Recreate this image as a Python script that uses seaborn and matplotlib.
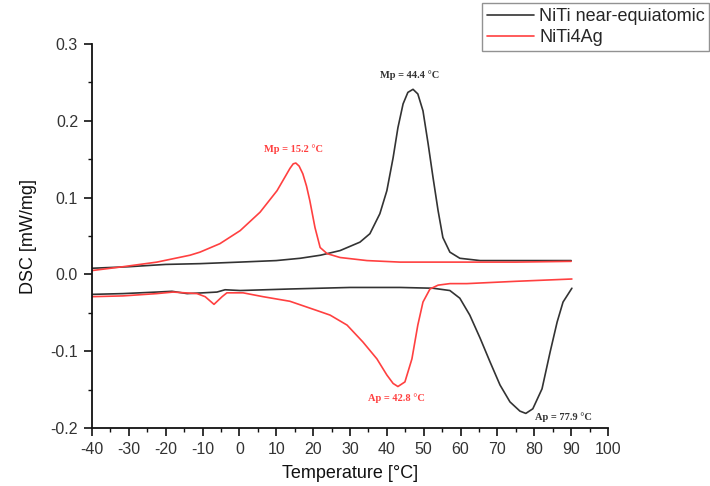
import matplotlib
matplotlib.use("Agg")
import matplotlib.pyplot as plt
import seaborn as sns
from matplotlib.ticker import MultipleLocator

# ---- data ----
niti_cool_x = [-40, -30, -20, -10.7, 0, 10, 16.5, 22, 27.3, 32.7, 35.4, 38.1, 40.0, 41.7, 43.0,
               44.4, 45.7, 47.1, 48.4, 49.8, 51.2, 52.5, 53.9, 55.2, 57.1, 59.8, 65.3, 75, 90]
niti_cool_y = [0.008, 0.010, 0.013, 0.014, 0.016, 0.018, 0.021, 0.025, 0.031, 0.042, 0.053, 0.079,
               0.109, 0.152, 0.191, 0.222, 0.237, 0.241, 0.235, 0.213, 0.170, 0.127, 0.083, 0.048,
               0.029, 0.021, 0.018, 0.018, 0.018]

niti_heat_x = [-40, -31.6, -22.4, -18.3, -14.2, -9.9, -6.1, -3.9, 0.2, 13.7, 30, 43.6, 52.5, 57.1,
               59.8, 62.5, 65.3, 68.0, 70.7, 73.4, 76.1, 77.7, 79.6, 82.1, 84.3, 86.2, 87.8, 90.2]
niti_heat_y = [-0.026, -0.025, -0.023, -0.022, -0.025, -0.024, -0.023, -0.020, -0.021, -0.019,
               -0.017, -0.017, -0.018, -0.021, -0.031, -0.053, -0.083, -0.114, -0.144, -0.166,
               -0.178, -0.181, -0.175, -0.149, -0.101, -0.062, -0.036, -0.018]

niti4ag_cool_x = [-40, -31.6, -22.4, -13.4, -10.7, -5.3, 0.2, 5.6, 10.2, 12.5, 13.7, 14.6, 15.3,
                  16.2, 17.2, 18.2, 19.1, 20.5, 21.9, 23.8, 27.3, 34.6, 43.6, 60, 75, 90]
niti4ag_cool_y = [0.005, 0.010, 0.016, 0.025, 0.029, 0.040, 0.057, 0.081, 0.109, 0.128, 0.138,
                  0.144, 0.145, 0.141, 0.131, 0.115, 0.096, 0.061, 0.035, 0.027, 0.022, 0.018,
                  0.016, 0.016, 0.016, 0.017]

niti4ag_heat_x = [-40, -31.6, -22.4, -18, -11.5, -9.3, -6.9, -4.7, -3.4, 1, 6.4, 13.7, 21, 24.6,
                  29.2, 33.5, 37.3, 40.0, 41.7, 43.0, 44.9, 46.8, 48.4, 49.8, 51.7, 53.9, 57.1,
                  61.7, 75, 90.2]
niti4ag_heat_y = [-0.029, -0.028, -0.025, -0.023, -0.025, -0.029, -0.039, -0.029, -0.024, -0.024,
                  -0.029, -0.035, -0.047, -0.053, -0.066, -0.088, -0.110, -0.131, -0.142, -0.146,
                  -0.140, -0.110, -0.066, -0.036, -0.019, -0.014, -0.012, -0.012, -0.009, -0.006]

series_labels = ["NiTi near-equiatomic", "NiTi4Ag"]
annotations = [("Mp = 15.2 °C", 14.8, 0.163, "red"),
               ("Mp = 44.4 °C", 46.3, 0.260, "black"),
               ("Ap = 42.8 °C", 42.7, -0.161, "red"),
               ("Ap = 77.9 °C", 87.8, -0.186, "black")]

BLACK = "#333333"
RED = "#ff4040"

sns.set_style("ticks")
plt.rcParams["font.family"] = ["Liberation Sans", "DejaVu Sans"]
plt.rcParams["axes.unicode_minus"] = False

fig = plt.figure(figsize=(7.10, 4.86), dpi=100)
ax = fig.add_axes([92 / 710, 1 - 428 / 486, (608 - 92) / 710, (428 - 44) / 486])

sns.lineplot(x=niti_cool_x, y=niti_cool_y, sort=False, color=BLACK, lw=1.2, ax=ax,
             label=series_labels[0])
sns.lineplot(x=niti_heat_x, y=niti_heat_y, sort=False, color=BLACK, lw=1.2, ax=ax)
sns.lineplot(x=niti4ag_cool_x, y=niti4ag_cool_y, sort=False, color=RED, lw=1.2, ax=ax,
             label=series_labels[1])
sns.lineplot(x=niti4ag_heat_x, y=niti4ag_heat_y, sort=False, color=RED, lw=1.2, ax=ax)

ax.set_xlim(-40, 100)
ax.set_ylim(-0.2, 0.3)
ax.xaxis.set_major_locator(MultipleLocator(10))
ax.xaxis.set_minor_locator(MultipleLocator(5))
ax.yaxis.set_minor_locator(MultipleLocator(0.05))
ax.set_yticks([-0.2, -0.1, 0.0, 0.1, 0.2, 0.3])
ax.set_yticklabels(["-0.2", "-0.1", "0.0", "0.1", "0.2", "0.3"])
ax.tick_params(which="major", direction="out", length=6, width=1.2, labelsize=11.5,
               colors="#111111", labelcolor="#333333", pad=4)
ax.tick_params(which="minor", direction="out", length=3, width=1.0, colors="#111111")
sns.despine(ax=ax)
for s in ["left", "bottom"]:
    ax.spines[s].set_linewidth(1.3)
    ax.spines[s].set_color("#111111")

ax.set_xlabel("Temperature [°C]", fontsize=13, color="#111111", labelpad=6)
ax.set_ylabel("DSC [mW/mg]", fontsize=13, color="#111111", labelpad=10)

for txt, x, y, c in annotations:
    ax.text(x, y, txt, ha="center", va="center", fontsize=7.5, fontweight="bold",
            family=["Liberation Serif", "DejaVu Serif"], color=RED if c == "red" else BLACK)

ax.get_legend().remove()
handles, labels = ax.get_legend_handles_labels()
leg = fig.legend(handles, labels, loc="upper right", bbox_to_anchor=(0.999, 0.993),
                 fontsize=13, frameon=True, fancybox=False, edgecolor="#777777",
                 borderpad=0.25, labelspacing=0.25, handlelength=2.6, handletextpad=0.3,
                 borderaxespad=0)
leg.get_frame().set_linewidth(1.0)

fig.savefig("out.png", dpi=100)
